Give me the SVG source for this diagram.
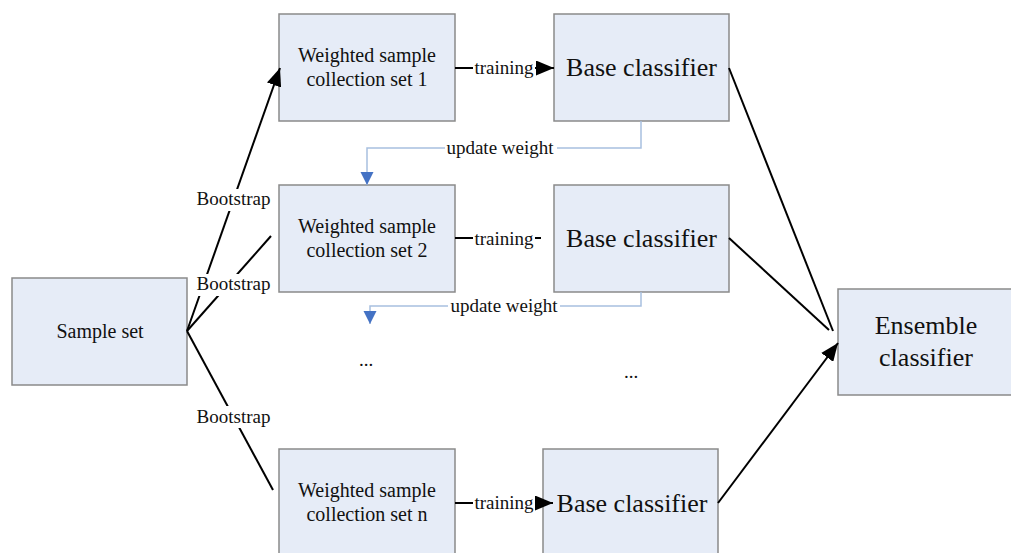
<svg xmlns="http://www.w3.org/2000/svg" width="1011" height="553" viewBox="0 0 1011 553">
<style>
.box{fill:#E6ECF7;stroke:#8A8A8A;stroke-width:1.5}
.t{font-family:"Liberation Serif","Times New Roman",serif;fill:#111;text-anchor:middle}
.s{font-size:19px}
.m{font-size:20px}
.l{font-size:26px}
.k{stroke:#000;stroke-width:2;fill:none}
.b{stroke:#A8C0E0;stroke-width:1.5;fill:none}
</style>
<defs>
<marker id="ah" markerUnits="userSpaceOnUse" markerWidth="19" markerHeight="15" refX="18" refY="7.5" orient="auto"><path d="M0,0 L18,7.5 L0,15 Z" fill="#000"/></marker>
<marker id="bh" markerUnits="userSpaceOnUse" markerWidth="14" markerHeight="14" refX="13" refY="6.5" orient="auto"><path d="M0,0 L13,6.5 L0,13 Z" fill="#4472C4"/></marker>
</defs>
<rect width="1011" height="553" fill="#fff"/>
<g id="sample-set">
<rect class="box" x="12" y="278" width="175" height="107"/>
<text class="t m" x="100" y="338">Sample set</text>
</g>
<g id="wsc1">
<rect class="box" x="279" y="14" width="176" height="107"/>
<text class="t m" x="367" y="62">Weighted sample</text>
<text class="t m" x="367" y="86">collection set 1</text>
</g>
<g id="wsc2">
<rect class="box" x="279" y="185" width="176" height="107"/>
<text class="t m" x="367" y="233">Weighted sample</text>
<text class="t m" x="367" y="257">collection set 2</text>
</g>
<g id="wscn">
<rect class="box" x="279" y="449" width="176" height="110"/>
<text class="t m" x="367" y="497">Weighted sample</text>
<text class="t m" x="367" y="521">collection set n</text>
</g>
<g id="bc1">
<rect class="box" x="554" y="14" width="175" height="107"/>
<text class="t l" x="641.5" y="76">Base classifier</text>
</g>
<g id="bc2">
<rect class="box" x="554" y="185" width="175" height="107"/>
<text class="t l" x="641.5" y="247">Base classifier</text>
</g>
<g id="bcn">
<rect class="box" x="543" y="449" width="175" height="110"/>
<text class="t l" x="632" y="512">Base classifier</text>
</g>
<g id="ensemble">
<rect class="box" x="838" y="289" width="175" height="106"/>
<text class="t l" x="926" y="334">Ensemble</text>
<text class="t l" x="926" y="366">classifier</text>
</g>
<g id="ellipses">
<text class="t s" x="366" y="366">...</text>
<text class="t s" x="631" y="378">...</text>
</g>
<g id="connectors">
<line class="k" x1="187" y1="331" x2="280" y2="68" marker-end="url(#ah)"/>
<line class="k" x1="187" y1="331" x2="271" y2="236"/>
<line class="k" x1="187" y1="331" x2="273" y2="490"/>
<line class="k" x1="455" y1="68" x2="473" y2="68"/>
<line class="k" x1="535" y1="68" x2="554" y2="68" marker-end="url(#ah)"/>
<line class="k" x1="455" y1="238" x2="473" y2="238"/>
<line class="k" x1="535" y1="238" x2="541" y2="238"/>
<line class="k" x1="455" y1="503" x2="473" y2="503"/>
<line class="k" x1="535" y1="503" x2="553" y2="503" marker-end="url(#ah)"/>
<line class="k" x1="729" y1="68" x2="833" y2="331"/>
<line class="k" x1="729" y1="238" x2="829" y2="330"/>
<line class="k" x1="718" y1="503" x2="838" y2="343" marker-end="url(#ah)"/>
<polyline class="b" points="641,121 641,148 367,148 367,185" marker-end="url(#bh)"/>
<polyline class="b" points="641,292 641,306 370,306 370,324" marker-end="url(#bh)"/>
<rect x="195" y="189" width="78" height="22" fill="#fff"/>
<rect x="195" y="274" width="78" height="22" fill="#fff"/>
<rect x="195" y="406" width="78" height="22" fill="#fff"/>
<rect x="445" y="138" width="112" height="20" fill="#fff"/>
<rect x="448" y="296" width="112" height="20" fill="#fff"/>
<text class="t s" x="233.5" y="205">Bootstrap</text>
<text class="t s" x="233.5" y="290">Bootstrap</text>
<text class="t s" x="233.5" y="423">Bootstrap</text>
<text class="t s" x="504" y="74">training</text>
<text class="t s" x="504" y="245">training</text>
<text class="t s" x="504" y="509">training</text>
<text class="t s" x="500" y="154">update weight</text>
<text class="t s" x="504" y="312">update weight</text>
</g>
</svg>
